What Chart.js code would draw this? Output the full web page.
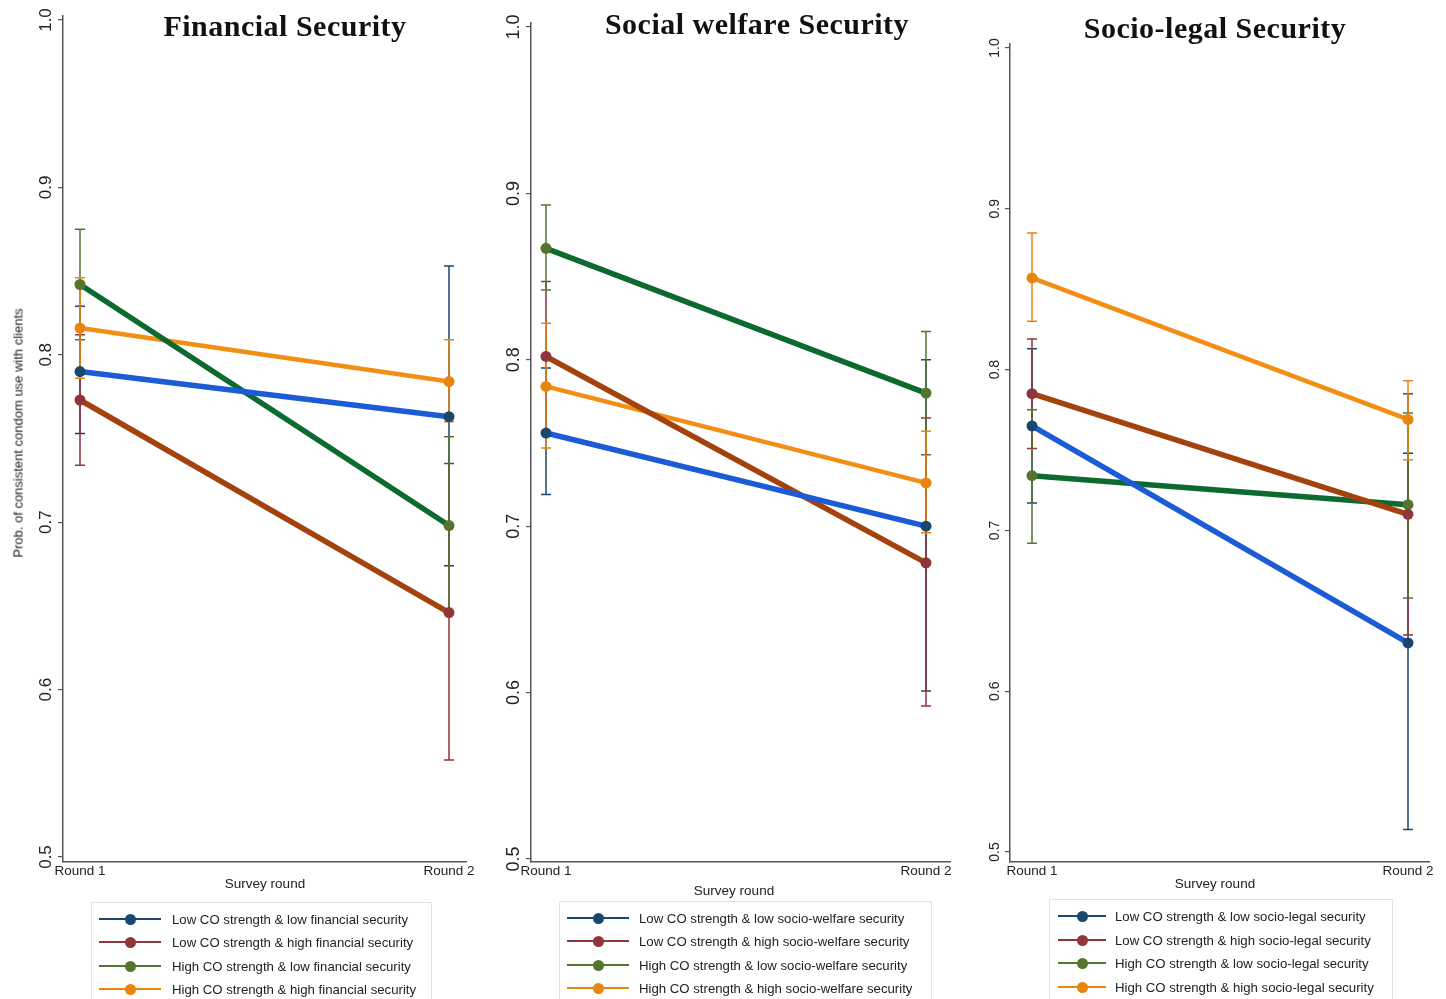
<!DOCTYPE html>
<html>
<head>
<meta charset="utf-8">
<script src="https://cdn.jsdelivr.net/npm/chart.js@4.4.1/dist/chart.umd.min.js"></script>
<style>
    html, body { margin: 0; padding: 0; background: #fff; }
    #stage { position: relative; width: 1446px; height: 999px; overflow: hidden;
             font-family: "Liberation Sans", Arial, sans-serif; color: #222; }
    #stage canvas { position: absolute; top: 0; }
    .panel-title { position: absolute; transform: translate(-50%, -50%); white-space: nowrap;
                   font-family: "Liberation Serif", serif; font-weight: bold; font-size: 30px;
                   letter-spacing: 0.5px; color: #111; }
    .axis-title { position: absolute; transform: translate(-50%, -50%); white-space: nowrap; font-size: 13.5px; }
    .y-title { position: absolute; transform: translate(-50%, -50%) rotate(-90deg); white-space: nowrap; font-size: 13px; }
    .legend { position: absolute; height: 130px; border: 1px solid #dde3ea; box-sizing: border-box; }
    .legend-line { position: absolute; height: 2px; }
    .legend-dot { position: absolute; width: 11px; height: 11px; border-radius: 50%; }
    .legend-text { position: absolute; font-size: 13.2px; white-space: nowrap; transform: translateY(-50%); }
</style>
</head>
<body>
<div id="stage"></div>
<script>
// ========
// Data
// ========
const rounds = [1, 2];
const roundLabels = ["Round 1", "Round 2"];
const yTickValues = [0.5, 0.6, 0.7, 0.8, 0.9, 1.0];

const panelTitles = ["Financial Security", "Social welfare Security", "Socio-legal Security"];
const yAxisTitle = "Prob. of consistent condom use with clients";
const xAxisTitle = "Survey round";

const financialLabels = [
    "Low CO strength & low financial security",
    "Low CO strength & high financial security",
    "High CO strength & low financial security",
    "High CO strength & high financial security"
];
const welfareLabels = [
    "Low CO strength & low socio-welfare security",
    "Low CO strength & high socio-welfare security",
    "High CO strength & low socio-welfare security",
    "High CO strength & high socio-welfare security"
];
const legalLabels = [
    "Low CO strength & low socio-legal security",
    "Low CO strength & high socio-legal security",
    "High CO strength & low socio-legal security",
    "High CO strength & high socio-legal security"
];

// Financial security: predicted probability per round, with 95% CI [low, high]
const finLowLow = [0.790, 0.763];
const finLowLowCI = [[0.753, 0.829], [0.674, 0.853]];
const finLowHigh = [0.773, 0.646];
const finLowHighCI = [[0.734, 0.812], [0.558, 0.735]];
const finHighLow = [0.842, 0.698];
const finHighLowCI = [[0.809, 0.875], [0.645, 0.751]];
const finHighHigh = [0.816, 0.784];
const finHighHighCI = [[0.786, 0.846], [0.760, 0.809]];

// Social welfare security
const welLowLow = [0.756, 0.700];
const welLowLowCI = [[0.719, 0.795], [0.601, 0.800]];
const welLowHigh = [0.802, 0.678];
const welLowHighCI = [[0.757, 0.847], [0.592, 0.765]];
const welHighLow = [0.867, 0.780];
const welHighLowCI = [[0.842, 0.893], [0.743, 0.817]];
const welHighHigh = [0.784, 0.726];
const welHighHighCI = [[0.747, 0.822], [0.696, 0.757]];

// Socio-legal security
const legLowLow = [0.765, 0.630];
const legLowLowCI = [[0.717, 0.813], [0.514, 0.748]];
const legLowHigh = [0.785, 0.710];
const legLowHighCI = [[0.751, 0.819], [0.635, 0.785]];
const legHighLow = [0.734, 0.716];
const legHighLowCI = [[0.692, 0.775], [0.658, 0.773]];
const legHighHigh = [0.857, 0.769];
const legHighHighCI = [[0.830, 0.885], [0.744, 0.793]];

// ========
// Styles
// ========
const markColors = ["#1a476f", "#90353b", "#55752f", "#e8850c"];   // markers, CI bars, legend
const lineColors = ["#1c5bd6", "#a3420d", "#0c6a2f", "#f28e14"];   // thick connecting lines

// Layout of each panel in page pixels
const panels = [
    { axisX: 63,   right: 466,  y1: 20, y05: 857, base: 862, r1: 80,   r2: 449,  tickFont: 17,
      title: [285, 26], xTitle: [265, 883],
      legend: { left: 91, top: 902, width: 341, rows: [918, 941, 965, 988], line: [7, 69], text: 80 } },
    { axisX: 531,  right: 950,  y1: 27, y05: 859, base: 862, r1: 546,  r2: 926,  tickFont: 18,
      title: [757, 24], xTitle: [734, 890],
      legend: { left: 559, top: 901, width: 373, rows: [917, 940, 964, 987], line: [7, 69], text: 79 } },
    { axisX: 1010, right: 1429, y1: 48, y05: 852, base: 862, r1: 1032, r2: 1408, tickFont: 14,
      title: [1215, 28], xTitle: [1215, 883],
      legend: { left: 1049, top: 899, width: 344, rows: [915, 939, 962, 986], line: [8, 56], text: 65 } }
];

const panelSeries = [
    { labels: financialLabels, means: [finLowLow, finLowHigh, finHighLow, finHighHigh],
      cis: [finLowLowCI, finLowHighCI, finHighLowCI, finHighHighCI] },
    { labels: welfareLabels, means: [welLowLow, welLowHigh, welHighLow, welHighHigh],
      cis: [welLowLowCI, welLowHighCI, welHighLowCI, welHighHighCI] },
    { labels: legalLabels, means: [legLowLow, legLowHigh, legHighLow, legHighHigh],
      cis: [legLowLowCI, legLowHighCI, legHighLowCI, legHighHighCI] }
];

const stage = document.getElementById("stage");

// Confidence interval bars with caps, drawn under the lines
const errorBars = {
    id: "errorBars",
    beforeDatasetsDraw(chart) {
        const { ctx, scales: { x, y } } = chart;
        ctx.save();
        ctx.lineWidth = 1.5;
        chart.data.datasets.forEach(ds => {
            ctx.strokeStyle = ds.ciColor;
            ds.ci.forEach((pair, i) => {
                const px = x.getPixelForValue(rounds[i]);
                const lo = y.getPixelForValue(pair[0]);
                const hi = y.getPixelForValue(pair[1]);
                ctx.beginPath();
                ctx.moveTo(px, lo); ctx.lineTo(px, hi);
                ctx.moveTo(px - 5, lo); ctx.lineTo(px + 5, lo);
                ctx.moveTo(px - 5, hi); ctx.lineTo(px + 5, hi);
                ctx.stroke();
            });
        });
        ctx.restore();
    }
};

function addText(cls, text, x, y) {
    const el = document.createElement("div");
    el.className = cls;
    el.textContent = text;
    el.style.left = x + "px";
    el.style.top = y + "px";
    stage.appendChild(el);
    return el;
}

function makePanel(p, s, idx) {
    const cLeft = p.axisX - 60;
    const cWidth = p.right - cLeft + 14;
    const cHeight = 900;
    const xh = 22;

    const canvas = document.createElement("canvas");
    canvas.width = cWidth;
    canvas.height = cHeight;
    canvas.style.left = cLeft + "px";
    stage.appendChild(canvas);

    const ky = (p.y05 - p.y1) / 0.5;
    const kx = p.r2 - p.r1;

    // Rotated y tick labels (read bottom-to-top, like the Stata output)
    const yLabels = {
        id: "yLabels",
        afterDraw(chart) {
            const { ctx } = chart;
            const sc = chart.scales.y;
            ctx.save();
            ctx.fillStyle = "#222";
            ctx.font = p.tickFont + 'px "Liberation Sans", Arial, sans-serif';
            ctx.textAlign = "center";
            ctx.textBaseline = "bottom";
            sc.ticks.forEach(t => {
                ctx.save();
                ctx.translate(sc.right - 8, sc.getPixelForValue(t.value));
                ctx.rotate(-Math.PI / 2);
                ctx.fillText(t.value.toFixed(1), 0, 0);
                ctx.restore();
            });
            ctx.restore();
        }
    };

    new Chart(canvas, {
        type: "line",
        data: {
            datasets: s.means.map((m, i) => ({
                label: s.labels[i],
                data: rounds.map((r, j) => ({ x: r, y: m[j] })),
                ci: s.cis[i],
                ciColor: markColors[i],
                borderColor: lineColors[i],
                borderWidth: i === 3 ? 4.5 : 5.5,
                pointBackgroundColor: markColors[i],
                pointBorderWidth: 0,
                pointRadius: 5.5,
                tension: 0
            }))
        },
        options: {
            responsive: false,
            animation: false,
            devicePixelRatio: 1,
            layout: { padding: { left: 0, right: 14, top: p.y1 - 4, bottom: cHeight - p.base - xh } },
            plugins: { legend: { display: false }, tooltip: { enabled: false } },
            scales: {
                x: {
                    type: "linear",
                    min: 1 - (p.r1 - p.axisX) / kx,
                    max: 2 + (p.right - p.r2) / kx,
                    afterBuildTicks: sc => { sc.ticks = rounds.map(v => ({ value: v })); },
                    afterFit: sc => { sc.height = xh; },
                    ticks: {
                        autoSkip: false, maxRotation: 0, minRotation: 0, padding: 1,
                        color: "#222",
                        font: { size: 13.5, family: '"Liberation Sans", Arial, sans-serif' },
                        callback: v => roundLabels[rounds.indexOf(v)]
                    },
                    grid: { drawOnChartArea: false, drawTicks: false },
                    border: { color: "#555", width: 1.5 }
                },
                y: {
                    min: 0.5 - (p.base - p.y05) / ky,
                    max: 1 + 4 / ky,
                    afterBuildTicks: sc => { sc.ticks = yTickValues.map(v => ({ value: v })); },
                    afterFit: sc => { sc.width = 60; },
                    ticks: { display: false },
                    grid: { drawOnChartArea: false, drawTicks: true, tickLength: 5, color: "#555", lineWidth: 1.2 },
                    border: { color: "#555", width: 1.5 }
                }
            }
        },
        plugins: [errorBars, yLabels]
    });

    // Titles
    addText("panel-title", panelTitles[idx], p.title[0], p.title[1]);
    addText("axis-title", xAxisTitle, p.xTitle[0], p.xTitle[1]);

    // Legend box
    const lg = p.legend;
    const box = document.createElement("div");
    box.className = "legend";
    box.style.left = lg.left + "px";
    box.style.top = lg.top + "px";
    box.style.width = lg.width + "px";
    stage.appendChild(box);
    s.labels.forEach((label, i) => {
        const cy = lg.rows[i] - lg.top;
        const line = document.createElement("div");
        line.className = "legend-line";
        line.style.left = lg.line[0] + "px";
        line.style.width = (lg.line[1] - lg.line[0]) + "px";
        line.style.top = (cy - 1) + "px";
        line.style.background = markColors[i];
        box.appendChild(line);
        const dot = document.createElement("div");
        dot.className = "legend-dot";
        dot.style.left = ((lg.line[0] + lg.line[1]) / 2 - 5.5) + "px";
        dot.style.top = (cy - 5.5) + "px";
        dot.style.background = markColors[i];
        box.appendChild(dot);
        const txt = document.createElement("div");
        txt.className = "legend-text";
        txt.textContent = label;
        txt.style.left = lg.text + "px";
        txt.style.top = cy + "px";
        box.appendChild(txt);
    });
}

panels.forEach((p, i) => makePanel(p, panelSeries[i], i));

// Shared y axis title on the first panel
addText("y-title", yAxisTitle, 18, 433);
</script>
</body>
</html>
